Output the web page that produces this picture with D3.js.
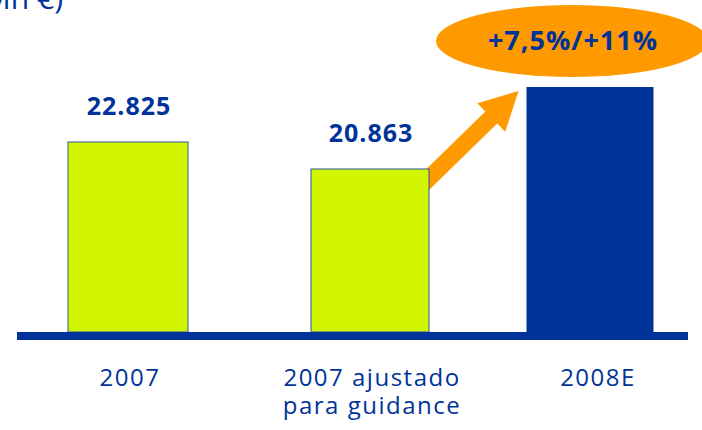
<!DOCTYPE html>
<html>
<head>
<meta charset="utf-8">
<script src="https://cdn.jsdelivr.net/npm/d3@7"></script>
<style>
  body { margin:0; background:#fff; }
  text { font-family:"Open Sans", "Noto Sans", sans-serif; }
</style>
</head>
<body>
<div id="chart"></div>
<script>
// values (mn €) -- 2008E has no label, height read off the picture
var categories = ["2007", "2007 ajustado|para guidance", "2008E"];
var values = [22825, 20863, 26820];
var valueLabels = ["22.825", "20.863", ""];
var growthLabel = "+7,5%/+11%";
var unitLabel = "(Mn €)";

var blue = "#003399", lime = "#d2f500", orange = "#ff9900";

function draw() {
    var W = 702, H = 430;
    var svg = d3.select("#chart").append("svg")
        .attr("width", W)
        .attr("height", H);

    var base = 332;
    // axis does not start at zero in the original
    var y = d3.scaleLinear().domain([9020, 26820]).range([base, 87]);
    var x = d3.scaleOrdinal().domain(categories).range([128, 370, 590]);
    var bw = d3.scaleOrdinal().domain(categories).range([120, 118, 127]);

    // unit text, mostly cut off at the top
    svg.append("text")
        .attr("x", 63).attr("y", 9)
        .attr("text-anchor", "end")
        .attr("font-size", 30)
        .attr("fill", blue)
        .text(unitLabel);

    // growth arrow, from bar 2 towards bar 3
    var x2 = x(categories[1]) + bw(categories[1]) / 2,
        x3 = x(categories[2]) - bw(categories[2]) / 2;
    var start = [x2 - 10, y(values[1]) + 19],
        tip = [x3 - 8, y(values[2]) + 4];
    var dx = tip[0] - start[0], dy = tip[1] - start[1];
    var len = Math.sqrt(dx * dx + dy * dy);
    var ux = dx / len, uy = dy / len, nx = -uy, ny = ux;
    var headLen = 38, headW = 20, shaftW = 8.5;
    var hb = [tip[0] - ux * headLen, tip[1] - uy * headLen];
    var pts = [
        [start[0] + nx * shaftW, start[1] + ny * shaftW],
        [hb[0] + nx * shaftW, hb[1] + ny * shaftW],
        [hb[0] + nx * headW, hb[1] + ny * headW],
        tip,
        [hb[0] - nx * headW, hb[1] - ny * headW],
        [hb[0] - nx * shaftW, hb[1] - ny * shaftW],
        [start[0] - nx * shaftW, start[1] - ny * shaftW]
    ];
    svg.append("path")
        .attr("d", d3.line()(pts) + "Z")
        .attr("fill", orange);

    // bars
    svg.selectAll("rect.bar")
        .data(values)
        .enter()
        .append("rect")
        .attr("class", "bar")
        .attr("x", function(d, i) { return x(categories[i]) - bw(categories[i]) / 2; })
        .attr("y", function(d) { return y(d); })
        .attr("width", function(d, i) { return bw(categories[i]); })
        .attr("height", function(d) { return base - y(d); })
        .attr("fill", function(d, i) { return i < 2 ? lime : blue; })
        .attr("stroke", function(d, i) { return i < 2 ? "#2f55a0" : "none"; })
        .attr("stroke-width", 1);

    // value labels
    svg.selectAll("text.val")
        .data(valueLabels)
        .enter()
        .append("text")
        .attr("class", "val")
        .attr("x", function(d, i) { return x(categories[i]) + 1; })
        .attr("y", function(d, i) { return y(values[i]) - 27; })
        .attr("text-anchor", "middle")
        .attr("font-size", 25)
        .attr("font-weight", "bold")
        .attr("letter-spacing", 1)
        .attr("fill", blue)
        .text(function(d) { return d; });

    // baseline
    svg.append("rect")
        .attr("x", 17).attr("y", base)
        .attr("width", 688 - 17).attr("height", 8)
        .attr("fill", blue);

    // category labels
    var cl = svg.selectAll("text.cat")
        .data(categories)
        .enter()
        .append("text")
        .attr("class", "cat")
        .attr("text-anchor", "middle")
        .attr("font-size", 24)
        .attr("letter-spacing", 1.5)
        .attr("fill", blue);
    cl.selectAll("tspan")
        .data(function(d) { return d.split("|").map(function(t) { return [t, d]; }); })
        .enter()
        .append("tspan")
        .attr("x", function(d) { return x(d[1]) + (d[1] == "2008E" ? 8 : 2); })
        .attr("y", function(d, i) { return 386 + i * 28; })
        .text(function(d) { return d[0]; });

    // growth bubble
    var cx = x(categories[2]) - 18;
    svg.append("ellipse")
        .attr("cx", cx).attr("cy", 41)
        .attr("rx", 136).attr("ry", 36)
        .attr("fill", orange);
    svg.append("text")
        .attr("x", cx + 1).attr("y", 50)
        .attr("text-anchor", "middle")
        .attr("font-size", 27)
        .attr("font-weight", "bold")
        .attr("letter-spacing", 1)
        .attr("fill", blue)
        .text(growthLabel);
}

document.body.onload = function() {
    draw();
}
</script>
</body>
</html>
